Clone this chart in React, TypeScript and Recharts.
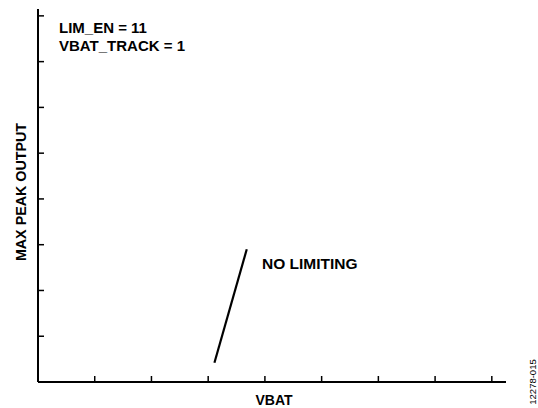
import { LineChart, Line, XAxis, YAxis } from "recharts";

// VBAT (arbitrary units) and max peak output for the "no limiting" segment
const vbat = [3.11, 3.68];
const maxPeak = [0.42, 2.9];

const xTicks = [0, 1, 2, 3, 4, 5, 6, 7, 8];
const yTicks = [0, 1, 2, 3, 4, 5, 6, 7, 8];

const annotations = ["LIM_EN = 11", "VBAT_TRACK = 1"];
const curveLabel = "NO LIMITING";
const xTitle = "VBAT";
const yTitle = "MAX PEAK OUTPUT";
const figureId = "12278-015";

const data = vbat.map((v, i) => ({ vbat: v, peak: maxPeak[i] }));

const font = "'Liberation Sans', Arial, sans-serif";

// tick marks only, no tick text
const noLabel = () => <g />;

export default function App() {
  return (
    <div style={{ position: "absolute", left: 0, top: 0, background: "#fff" }}>
      <LineChart
        width={538}
        height={408}
        data={data}
        margin={{ top: 9, right: 32, bottom: 26, left: 38 }}
      >
        <XAxis
          type="number"
          dataKey="vbat"
          domain={[0, 8.25]}
          ticks={xTicks}
          allowDataOverflow
          mirror
          tick={noLabel}
          tickSize={6}
          axisLine={{ stroke: "#000", strokeWidth: 2 }}
          tickLine={{ stroke: "#000", strokeWidth: 1.5 }}
        />
        <YAxis
          type="number"
          dataKey="peak"
          domain={[0, 8.15]}
          ticks={yTicks}
          allowDataOverflow
          mirror
          tick={noLabel}
          tickSize={6}
          axisLine={{ stroke: "#000", strokeWidth: 2 }}
          tickLine={{ stroke: "#000", strokeWidth: 1.5 }}
        />
        <Line
          type="linear"
          dataKey="peak"
          stroke="#000"
          strokeWidth={2.2}
          dot={false}
          isAnimationActive={false}
        />
        <g fontFamily={font} fontWeight="bold" fill="#000">
          <text x={59} y={33} fontSize={15}>
            {annotations[0]}
          </text>
          <text x={59} y={50.5} fontSize={15}>
            {annotations[1]}
          </text>
          <text x={262} y={269} fontSize={15.5}>
            {curveLabel}
          </text>
          <text x={274} y={405} fontSize={14}>
            <tspan textAnchor="middle">{xTitle}</tspan>
          </text>
          <text
            x={26}
            y={192}
            fontSize={14.3}
            textAnchor="middle"
            transform="rotate(-90, 26, 192)"
          >
            {yTitle}
          </text>
        </g>
        <text
          x={536}
          y={382}
          fontSize={9.5}
          fontFamily={font}
          textAnchor="middle"
          fill="#000"
          transform="rotate(-90, 536, 382)"
        >
          {figureId}
        </text>
      </LineChart>
    </div>
  );
}
